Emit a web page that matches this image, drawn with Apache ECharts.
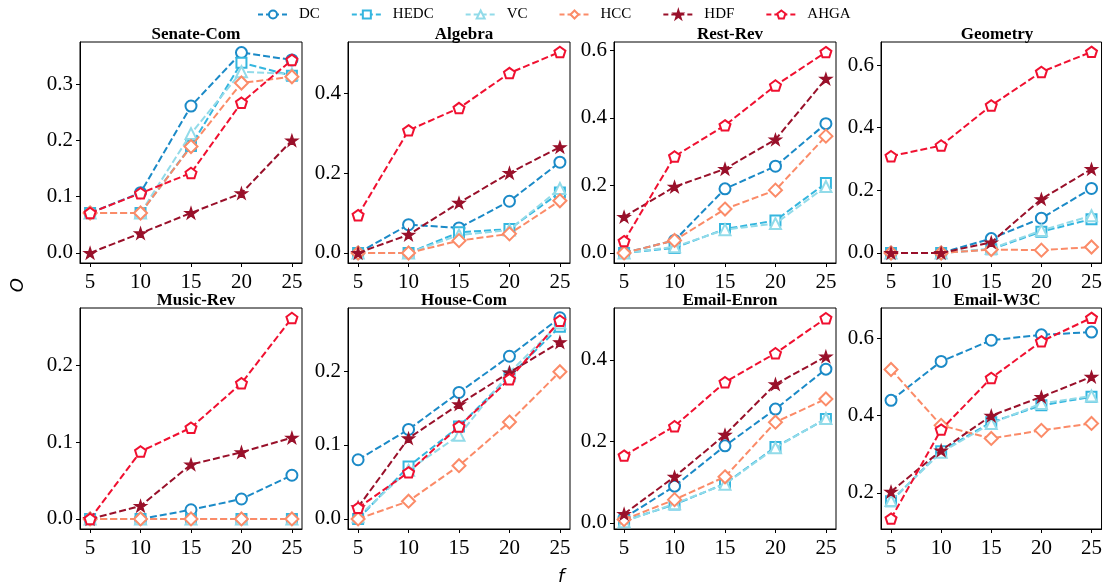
<!DOCTYPE html>
<html>
<head>
<meta charset="utf-8">
<script src="https://cdn.jsdelivr.net/npm/echarts@6/dist/echarts.min.js"></script>
<style>html,body{margin:0;padding:0;background:#fff;}#chart{width:1105px;height:588px;}</style>
</head>
<body>
<div id="chart"></div>
<script>
// ---- data ----
const fValues = [5, 10, 15, 20, 25];
const methods = ['DC', 'HEDC', 'VC', 'HCC', 'HDF', 'AHGA'];
const panelTitles = ['Senate-Com', 'Algebra', 'Rest-Rev', 'Geometry', 'Music-Rev', 'House-Com', 'Email-Enron', 'Email-W3C'];
const xTicks = [5, 10, 15, 20, 25];

// rows: DC, HEDC, VC, HCC, HDF, AHGA
const senateCom = [
  [0.071, 0.107, 0.261, 0.356, 0.343],
  [0.071, 0.071, 0.190, 0.338, 0.315],
  [0.071, 0.071, 0.212, 0.322, 0.318],
  [0.071, 0.071, 0.189, 0.302, 0.313],
  [0.000, 0.035, 0.071, 0.106, 0.200],
  [0.071, 0.106, 0.142, 0.267, 0.343]
];
const algebra = [
  [0.000, 0.071, 0.063, 0.130, 0.228],
  [0.000, 0.000, 0.052, 0.060, 0.152],
  [0.000, 0.000, 0.045, 0.058, 0.162],
  [0.000, 0.000, 0.031, 0.048, 0.131],
  [0.000, 0.046, 0.126, 0.201, 0.266],
  [0.095, 0.308, 0.364, 0.452, 0.505]
];
const restRev = [
  [0.000, 0.037, 0.190, 0.257, 0.383],
  [0.000, 0.015, 0.071, 0.096, 0.207],
  [0.000, 0.018, 0.069, 0.087, 0.197],
  [0.000, 0.037, 0.130, 0.186, 0.346],
  [0.107, 0.196, 0.249, 0.336, 0.516],
  [0.035, 0.286, 0.378, 0.496, 0.595]
];
const geometry = [
  [0.000, 0.000, 0.046, 0.111, 0.206],
  [0.000, 0.000, 0.012, 0.068, 0.108],
  [0.000, 0.000, 0.014, 0.072, 0.119],
  [0.000, 0.000, 0.011, 0.009, 0.019],
  [0.000, 0.000, 0.034, 0.172, 0.268],
  [0.309, 0.343, 0.471, 0.578, 0.642]
];
const musicRev = [
  [0.000, 0.000, 0.012, 0.026, 0.057],
  [0.000, 0.000, 0.000, 0.000, 0.000],
  [0.000, 0.000, 0.000, 0.000, 0.000],
  [0.000, 0.000, 0.000, 0.000, 0.000],
  [0.000, 0.017, 0.071, 0.087, 0.106],
  [0.000, 0.088, 0.119, 0.177, 0.262]
];
const houseCom = [
  [0.080, 0.121, 0.171, 0.220, 0.272],
  [0.000, 0.071, 0.125, 0.193, 0.260],
  [0.003, 0.066, 0.113, 0.198, 0.265],
  [0.000, 0.024, 0.072, 0.131, 0.199],
  [0.016, 0.109, 0.155, 0.198, 0.239],
  [0.015, 0.063, 0.125, 0.189, 0.268]
];
const emailEnron = [
  [0.012, 0.090, 0.189, 0.279, 0.377],
  [0.005, 0.045, 0.096, 0.186, 0.255],
  [0.003, 0.047, 0.095, 0.184, 0.256],
  [0.008, 0.057, 0.113, 0.247, 0.304],
  [0.022, 0.113, 0.216, 0.340, 0.408],
  [0.165, 0.237, 0.345, 0.416, 0.502]
];
const emailW3C = [
  [0.440, 0.541, 0.596, 0.610, 0.617],
  [0.178, 0.308, 0.383, 0.427, 0.449],
  [0.180, 0.305, 0.380, 0.432, 0.451],
  [0.520, 0.375, 0.341, 0.362, 0.380],
  [0.203, 0.310, 0.400, 0.449, 0.501],
  [0.133, 0.364, 0.498, 0.593, 0.654]
];
const panelData = [senateCom, algebra, restRev, geometry, musicRev, houseCom, emailEnron, emailW3C];

const yTicksSenate = [0, 0.1, 0.2, 0.3];
const yTicksAlgebra = [0, 0.2, 0.4];
const yTicksRest = [0, 0.2, 0.4, 0.6];
const yTicksGeometry = [0, 0.2, 0.4, 0.6];
const yTicksMusic = [0, 0.1, 0.2];
const yTicksHouse = [0, 0.1, 0.2];
const yTicksEnron = [0, 0.2, 0.4];
const yTicksW3C = [0.2, 0.4, 0.6];
const panelYTicks = [yTicksSenate, yTicksAlgebra, yTicksRest, yTicksGeometry, yTicksMusic, yTicksHouse, yTicksEnron, yTicksW3C];
const panelYRange = [
  [-0.0179, 0.3748], [-0.0252, 0.530], [-0.0298, 0.625], [-0.032, 0.6735],
  [-0.0131, 0.2751], [-0.0136, 0.2852], [-0.015, 0.527], [0.106, 0.6796]
];

// ---- styles ----
const colors = ['#1b8ac7', '#34b6df', '#92dbe9', '#fb8b68', '#99102a', '#f01030'];
const pentagon = 'path://M0,-1L0.951,-0.309L0.588,0.809L-0.588,0.809L-0.951,-0.309Z';
const star = 'path://M0,-1L0.2245,-0.309L0.951,-0.309L0.3633,0.118L0.588,0.809L0,0.382L-0.588,0.809L-0.3633,0.118L-0.951,-0.309L-0.2245,-0.309Z';
const symbols = ['circle', 'rect', 'triangle', 'diamond', star, pentagon];
const symbolSizes = [11, 10, 11, 13, 12, 11];
const fills = ['#fff', '#fff', '#fff', '#fff', '#99102a', '#fff'];
const borderWidths = [2, 2, 2, 2, 1.2, 2];
const FONT = '"Liberation Serif", "Times New Roman", serif';

const lefts = [80, 348, 614, 881];
const tops = [42, 308];
const gw = 222, gh = 221;

const grids = [], xAxes = [], yAxes = [], series = [], titles = [];
for (let p = 0; p < 8; p++) {
  const col = p % 4, row = Math.floor(p / 4);
  grids.push({left: lefts[col], top: tops[row], width: gw, height: gh,
    show: true, borderColor: '#000', borderWidth: 1, backgroundColor: 'transparent'});
  titles.push({text: panelTitles[p], left: lefts[col] + gw / 2, top: tops[row] - 21, textAlign: 'center',
    textStyle: {fontFamily: FONT, fontWeight: 'bold', fontSize: 17, color: '#000'}});
  xAxes.push({gridIndex: p, type: 'value', min: 4, max: 26,
    axisLine: {show: true, onZero: false, lineStyle: {color: '#000', width: 1}},
    axisTick: {show: true, inside: false, length: 4, customValues: xTicks, lineStyle: {color: '#000'}},
    axisLabel: {show: true, customValues: xTicks, margin: 9, fontFamily: FONT, fontSize: 21, color: '#000'},
    splitLine: {show: false}});
  yAxes.push({gridIndex: p, type: 'value', min: panelYRange[p][0], max: panelYRange[p][1],
    axisLine: {show: true, onZero: false, lineStyle: {color: '#000', width: 1}},
    axisTick: {show: true, inside: false, length: 4, customValues: panelYTicks[p], lineStyle: {color: '#000'}},
    axisLabel: {show: true, customValues: panelYTicks[p], margin: 7, fontFamily: FONT, fontSize: 21, color: '#000',
      formatter: v => v.toFixed(1)},
    splitLine: {show: false}});
  for (let m = 0; m < methods.length; m++) {
    series.push({
      name: methods[m], type: 'line', xAxisIndex: p, yAxisIndex: p,
      data: fValues.map((f, i) => [f, panelData[p][m][i]]),
      symbol: symbols[m], symbolSize: symbolSizes[m], symbolKeepAspect: true, showAllSymbol: true,
      lineStyle: {color: colors[m], width: 2, type: [7, 3]},
      itemStyle: {color: fills[m], borderColor: colors[m], borderWidth: borderWidths[m]},
      emphasis: {disabled: true}, animation: false, z: 2 + m
    });
  }
}

const chart = echarts.init(document.getElementById('chart'), null, {renderer: 'canvas'});
chart.setOption({
  animation: false,
  backgroundColor: '#fff',
  title: titles,
  legend: {
    data: methods.map((n, i) => ({name: n, itemStyle: {color: fills[i], borderColor: colors[i], borderWidth: 2}, lineStyle: {color: colors[i], width: 2, type: [5, 3]}})),
    left: 252, top: 2, itemWidth: 30, itemHeight: 10, itemGap: 31,
    textStyle: {fontFamily: FONT, fontSize: 15, color: '#000', padding: [0, 0, 0, 6]}
  },
  grid: grids, xAxis: xAxes, yAxis: yAxes, series: series,
  graphic: [
    {type: 'text', left: 9, top: 278, rotation: Math.PI / 2,
      style: {text: 'O', fontFamily: '"DejaVu Sans"', fontStyle: 'italic', fontSize: 18, fill: '#000'}},
    {type: 'text', left: 558, top: 568,
      style: {text: 'f', fontFamily: '"DejaVu Sans"', fontStyle: 'italic', fontSize: 18, fill: '#000'}}
  ]
});
</script>
</body>
</html>
